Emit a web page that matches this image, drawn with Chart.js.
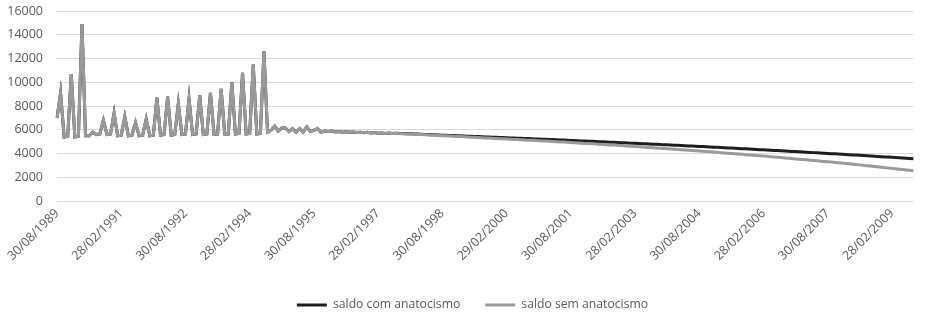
<!DOCTYPE html>
<html>
<head>
<meta charset="utf-8">
<script src="https://cdn.jsdelivr.net/npm/chart.js@4/dist/chart.umd.min.js"></script>
<style>
  html, body { margin: 0; padding: 0; background: #ffffff; }
  #wrap { width: 929px; height: 313px; }
</style>
</head>
<body>
<div id="wrap"><canvas id="c" width="929" height="313"></canvas></div>
<script>
// ---- DATA ----
const seriesNames = ["saldo com anatocismo", "saldo sem anatocismo"];

// monthly dates, 30/08/1989 .. 30/08/2009 (241 months)
const dates = [];
(function () {
  const pad = n => (n < 10 ? "0" : "") + n;
  for (let i = 0; i < 241; i++) {
    const t = 7 + i;
    const y = 1989 + Math.floor(t / 12);
    const m = (t % 12) + 1;
    const d = m === 2 ? (y % 4 === 0 ? 29 : 28) : 30;
    dates.push(pad(d) + "/" + pad(m) + "/" + y);
  }
})();

// months 0..95: both balances identical
const earlyBalance = [
  7000, 9100, 5400, 5450, 10700, 5400, 5450, 14900, 5500, 5500,
  5800, 5600, 5650, 6800, 5600, 5650, 7400, 5500, 5550, 7100,
  5500, 5550, 6600, 5500, 5550, 6900, 5500, 5550, 8700, 5550,
  5600, 8800, 5550, 5600, 8200, 5600, 5650, 8600, 5600, 5650,
  8900, 5600, 5650, 9100, 5650, 5650, 9450, 5650, 5650, 10000,
  5650, 5700, 10800, 5650, 5700, 11500, 5650, 5700, 12600, 5800,
  5950, 6300, 5900, 6150, 6150, 5850, 6100, 5800, 6100, 5800,
  6250, 5850, 5950, 6100, 5800, 5900, 5850, 5900, 5820, 5860,
  5800, 5840, 5790, 5820, 5780, 5800, 5760, 5790, 5740, 5770,
  5720, 5740, 5700, 5730, 5690, 5710
];

// months 96..240
const comTail = [
  5680, 5690, 5660, 5680, 5650,
  5640, 5625, 5615, 5600, 5590, 5575, 5565, 5550, 5540, 5528, 5515,
  5503, 5490, 5478, 5466, 5454, 5441, 5429, 5417, 5405, 5392, 5380,
  5368, 5356, 5344, 5332, 5320, 5308, 5296, 5284, 5272, 5260, 5248,
  5236, 5224, 5212, 5200, 5188, 5176, 5164,
  5150, 5137, 5123, 5110, 5096, 5083, 5069, 5056, 5042, 5029,
  5015, 5002, 4988, 4975, 4961, 4948, 4934, 4921, 4907, 4894,
  4879, 4865, 4850, 4836, 4821, 4807, 4792, 4778, 4763, 4749,
  4734, 4720, 4705, 4691, 4676, 4662, 4647, 4633, 4618, 4604,
  4588, 4572, 4556, 4540, 4524, 4508, 4492, 4476, 4460, 4444,
  4428, 4412, 4396, 4380, 4364, 4348, 4332, 4316, 4300, 4284,
  4267, 4250, 4233, 4216, 4199, 4182, 4165, 4148, 4131, 4114,
  4097, 4080, 4063, 4046, 4029, 4012, 3995, 3978, 3961, 3944,
  3926, 3907, 3889, 3870, 3852, 3833, 3815, 3796, 3778, 3759,
  3741, 3722, 3704, 3685, 3667, 3648, 3630, 3611, 3593, 3574
];

const semTail = [
  5670, 5675, 5645, 5660, 5630,
  5615, 5600, 5585, 5570, 5550, 5535, 5520, 5505, 5490, 5475, 5460,
  5445, 5430, 5415, 5400, 5380, 5365, 5350, 5335, 5320, 5305, 5290,
  5274, 5258, 5242, 5226, 5210, 5194, 5178, 5162, 5146, 5130, 5114,
  5098, 5082, 5066, 5050, 5034, 5018, 5002,
  4984, 4966, 4948, 4930, 4912, 4894, 4876, 4858, 4840, 4822,
  4804, 4786, 4768, 4750, 4732, 4714, 4696, 4678, 4660, 4642,
  4621, 4600, 4579, 4558, 4537, 4516, 4495, 4474, 4453, 4432,
  4411, 4390, 4369, 4348, 4327, 4306, 4285, 4264, 4243, 4222,
  4198, 4174, 4150, 4126, 4102, 4078, 4054, 4030, 4006, 3982,
  3958, 3934, 3910, 3886, 3862, 3838, 3814, 3790, 3766, 3742,
  3715, 3688, 3661, 3634, 3607, 3580, 3553, 3526, 3499, 3472,
  3445, 3418, 3391, 3364, 3337, 3310, 3283, 3256, 3229, 3202,
  3170, 3138, 3106, 3074, 3042, 3010, 2978, 2946, 2914, 2882,
  2850, 2818, 2786, 2754, 2722, 2690, 2658, 2626, 2594, 2562
];

const saldoCom = earlyBalance.concat(comTail);
const saldoSem = earlyBalance.concat(semTail);

const yTicks = [0, 2000, 4000, 6000, 8000, 10000, 12000, 14000, 16000];
const labelStep = 18;

// ---- CHART ----
const FONT = { family: "'Open Sans', 'DejaVu Sans', sans-serif", size: 12.5 };
const TXT = "#595959";

// shift the legend block a little right, like the reference
const legendShift = {
  id: "legendShift",
  beforeDraw(chart) {
    const lg = chart.legend;
    if (lg && !lg._shifted) { lg.left += 10; lg.right += 10; lg._shifted = true; }
  }
};

new Chart(document.getElementById("c"), {
  type: "line",
  data: {
    labels: dates,
    datasets: [
      {
        label: seriesNames[0],
        data: saldoCom,
        borderColor: "#1e1e1e",
        backgroundColor: "#1e1e1e",
        borderWidth: 3,
        pointRadius: 0,
        tension: 0,
        order: 1
      },
      {
        label: seriesNames[1],
        data: saldoSem,
        borderColor: "#9a9a9a",
        backgroundColor: "#9a9a9a",
        borderWidth: 3,
        pointRadius: 0,
        tension: 0,
        order: 0
      }
    ]
  },
  plugins: [legendShift],
  options: {
    responsive: false,
    animation: false,
    layout: { padding: { left: 0, right: 4, top: 11, bottom: -8 } },
    plugins: {
      tooltip: { enabled: false },
      legend: {
        position: "bottom",
        labels: {
          font: { family: FONT.family, size: 12.2 },
          color: TXT,
          boxWidth: 30,
          boxHeight: 3,
          padding: 25,
          sort: (a, b) => a.datasetIndex - b.datasetIndex,
          generateLabels: (chart) => {
            const items = Chart.defaults.plugins.legend.labels.generateLabels(chart);
            items.forEach(it => { it.lineWidth = 0; it.fillStyle = it.strokeStyle; });
            return items;
          }
        }
      }
    },
    scales: {
      x: {
        offset: false,
        grid: { display: false, drawTicks: false },
        border: { display: false },
        afterFit: (s) => { s.height = 72.7; },
        ticks: {
          autoSkip: false,
          minRotation: 45,
          maxRotation: 45,
          padding: 5,
          font: FONT,
          color: TXT,
          callback: (v, i) => (i % labelStep === 0 ? dates[i] : "")
        }
      },
      y: {
        min: 0,
        max: 16000,
        afterFit: (s) => { s.width = 57; },
        afterBuildTicks: (s) => { s.ticks = yTicks.map(v => ({ value: v })); },
        grid: {
          color: "#d9d9d9",
          lineWidth: 1,
          drawTicks: true,
          tickLength: 12,
          tickColor: "rgba(0,0,0,0)"
        },
        border: { display: false },
        ticks: {
          padding: 2,
          font: FONT,
          color: TXT,
          callback: (v) => String(v)
        }
      }
    }
  }
});
</script>
</body>
</html>
